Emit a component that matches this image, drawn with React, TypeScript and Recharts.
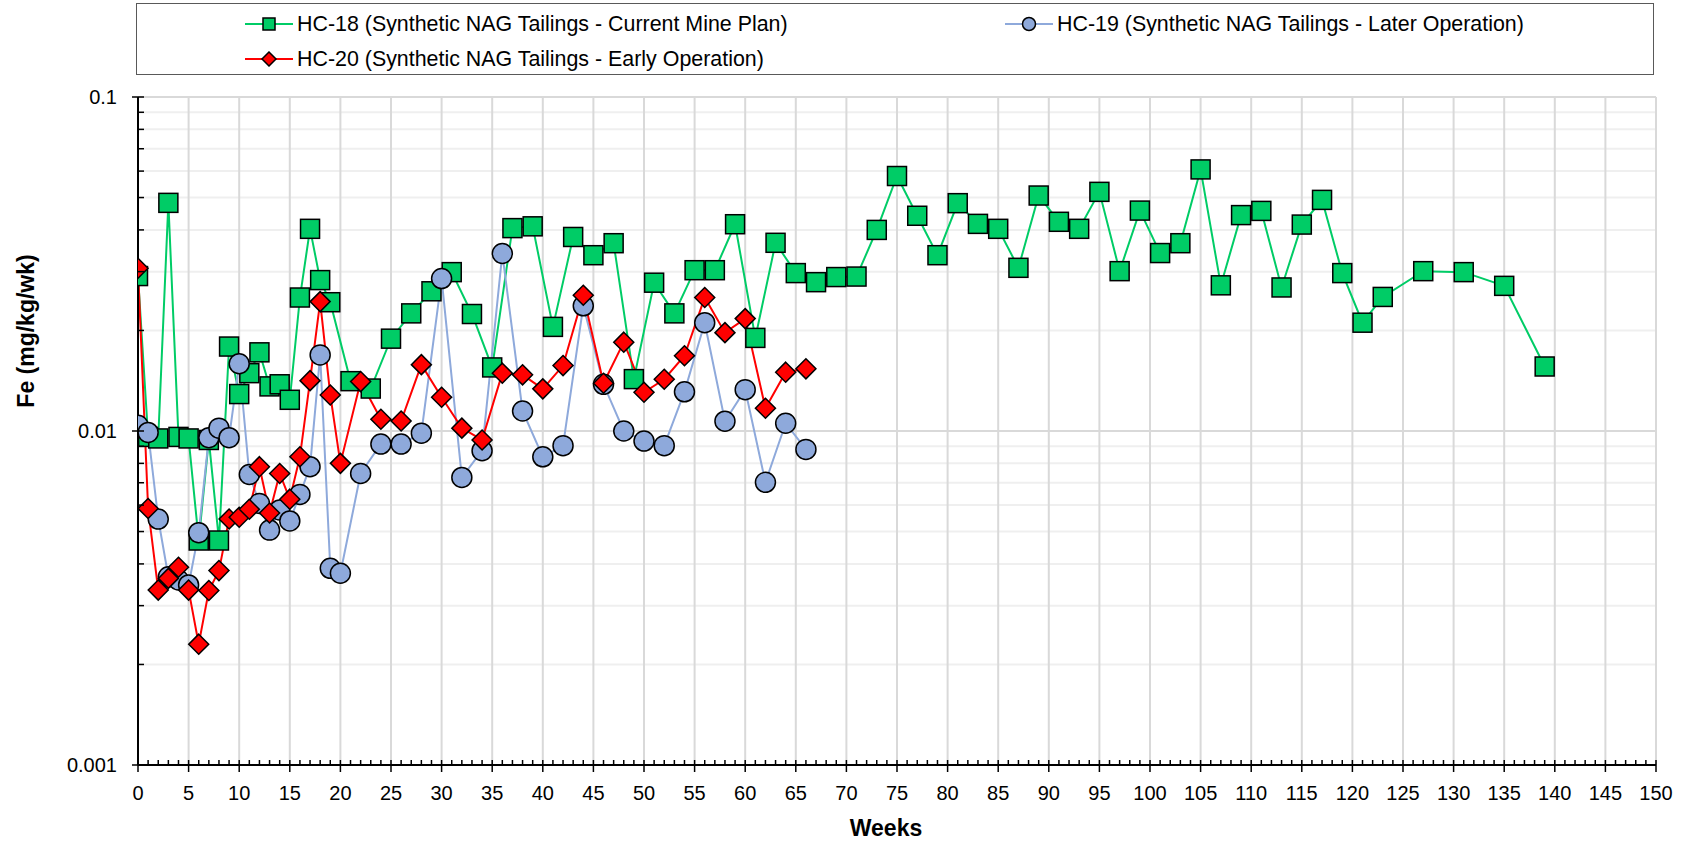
import { LineChart, Line, XAxis, YAxis, ReferenceLine } from 'recharts'

// HC-18 (weekly to wk 19, then every 2nd week)
const weeks18 = [
  0, 1, 2, 3, 4, 5, 6, 7, 8, 9, 10, 11, 12, 13, 14, 15, 16, 17, 18, 19,
  21, 23, 25, 27, 29, 31, 33, 35, 37, 39, 41, 43, 45, 47, 49, 51, 53, 55, 57, 59,
  61, 63, 65, 67, 69, 71, 73, 75, 77, 79, 81, 83, 85, 87, 89, 91, 93, 95, 97, 99,
  101, 103, 105, 107, 109, 111, 113, 115, 117, 119, 121, 123, 127, 131, 135, 139,
]
const fe18 = [
  0.0291, 0.0096, 0.0095, 0.0482, 0.0096, 0.0095, 0.0047, 0.0094, 0.0047, 0.0179,
  0.0129, 0.0149, 0.0172, 0.0136, 0.0138, 0.0124, 0.0251, 0.0403, 0.0283, 0.0243,
  0.0141, 0.0134, 0.0189, 0.0225, 0.0262, 0.0299, 0.0224, 0.0155, 0.0405, 0.041,
  0.0205, 0.0381, 0.0336, 0.0365, 0.0143, 0.0278, 0.0225, 0.0303, 0.0303, 0.0416,
  0.019, 0.0366, 0.0297, 0.0279, 0.0289, 0.029, 0.04, 0.058, 0.0441, 0.0336,
  0.0481, 0.0417, 0.0403, 0.0308, 0.0507, 0.0423, 0.0403, 0.052, 0.0301, 0.0457,
  0.0341, 0.0365, 0.0607, 0.0273, 0.0443, 0.0456, 0.0269, 0.0415, 0.0492, 0.0297,
  0.0211, 0.0252, 0.0301, 0.0299, 0.0272, 0.0156,
]

// HC-19 and HC-20 share the same sampling weeks
const weeks1920 = [
  0, 1, 2, 3, 4, 5, 6, 7, 8, 9, 10, 11, 12, 13, 14, 15, 16, 17, 18, 19, 20,
  22, 24, 26, 28, 30, 32, 34, 36, 38, 40, 42, 44, 46, 48, 50, 52, 54, 56, 58,
  60, 62, 64, 66,
]
const fe19 = [
  0.0104, 0.0099, 0.00545, 0.00366, 0.00358, 0.00346, 0.00496, 0.00955, 0.0102, 0.00955,
  0.0159, 0.00741, 0.00607, 0.00505, 0.0058, 0.00538, 0.00646, 0.00782, 0.0169, 0.00388,
  0.00375, 0.00746, 0.00914, 0.00914, 0.00985, 0.0286, 0.00726, 0.00873, 0.034, 0.01148,
  0.00837, 0.00904, 0.0237, 0.0138, 0.01, 0.00933, 0.00904, 0.0131, 0.0211, 0.0107,
  0.0133, 0.00702, 0.01055, 0.00881,
]
const fe20 = [
  0.0307, 0.00586, 0.00334, 0.00362, 0.00391, 0.00334, 0.0023, 0.00333, 0.00382, 0.00545,
  0.00552, 0.00583, 0.00782, 0.00568, 0.00746, 0.00625, 0.00837, 0.01415, 0.0244, 0.01282,
  0.008, 0.01406, 0.01084, 0.01071, 0.0158, 0.01262, 0.0102, 0.0094, 0.0149, 0.01473,
  0.01337, 0.0157, 0.0255, 0.0139, 0.01845, 0.01306, 0.01429, 0.0168, 0.0251, 0.0197,
  0.0217, 0.0117, 0.015, 0.01535,
]

const xMajor = [0, 5, 10, 15, 20, 25, 30, 35, 40, 45, 50, 55, 60, 65, 70, 75, 80, 85, 90, 95, 100, 105, 110, 115, 120, 125, 130, 135, 140, 145, 150]
const xTicks = Array.from({ length: 151 }, (_, i) => i)
const yMajor = [0.001, 0.01, 0.1]
const yTicks = [
  0.001, 0.002, 0.003, 0.004, 0.005, 0.006, 0.007, 0.008, 0.009,
  0.01, 0.02, 0.03, 0.04, 0.05, 0.06, 0.07, 0.08, 0.09, 0.1,
]

const GREEN = '#00CC66'
const BLUE = '#8EA9DB'
const RED = '#FF0000'
const FONT = '"Liberation Sans", Arial, sans-serif'

const hc18 = weeks18.map((w, i) => ({ w, v: fe18[i] }))
const hc19 = weeks1920.map((w, i) => ({ w, v: fe19[i] }))
const hc20 = weeks1920.map((w, i) => ({ w, v: fe20[i] }))

const SquareDot = (p: any) => {
  if (p.cx == null || p.cy == null) return <g key={`s${p.index}`} />
  return <rect key={`s${p.index}`} x={p.cx - 9.5} y={p.cy - 9.5} width={19} height={19} fill={GREEN} stroke="#000" strokeWidth={1.5} />
}
const CircleDot = (p: any) => {
  if (p.cx == null || p.cy == null) return <g key={`c${p.index}`} />
  return <circle key={`c${p.index}`} cx={p.cx} cy={p.cy} r={10} fill={BLUE} stroke="#000" strokeWidth={1.5} />
}
const DiamondDot = (p: any) => {
  if (p.cx == null || p.cy == null) return <g key={`d${p.index}`} />
  const { cx, cy } = p
  return <path key={`d${p.index}`} d={`M${cx},${cy - 10}L${cx + 10},${cy}L${cx},${cy + 10}L${cx - 10},${cy}Z`} fill={RED} stroke="#000" strokeWidth={1.5} />
}

const XTick = (p: any) => {
  const { x, y, payload } = p
  const major = payload.value % 5 === 0
  return (
    <g>
      <line x1={x} x2={x} y1={y - 5} y2={major ? y + 7 : y} stroke="#000" strokeWidth={1.5} />
      {major && (
        <text x={x} y={y + 35} textAnchor="middle" fontSize={20} fontFamily={FONT} fill="#000">{payload.value}</text>
      )}
    </g>
  )
}

const YTick = (p: any) => {
  const { x, y, payload } = p
  const major = yMajor.some(m => Math.abs(m - payload.value) < 1e-9)
  return (
    <g>
      <line x1={major ? x - 6 : x} x2={x + 6} y1={y} y2={y} stroke="#000" strokeWidth={1.5} />
      {major && (
        <text x={x - 21} y={y + 7} textAnchor="end" fontSize={20} fontFamily={FONT} fill="#000">{payload.value}</text>
      )}
    </g>
  )
}

const legendItems = [
  { name: 'HC-18 (Synthetic NAG Tailings - Current Mine Plan)', color: GREEN, shape: 'square', left: 108, top: 20 },
  { name: 'HC-19 (Synthetic NAG Tailings - Later Operation)', color: BLUE, shape: 'circle', left: 868, top: 20 },
  { name: 'HC-20 (Synthetic NAG Tailings - Early Operation)', color: RED, shape: 'diamond', left: 108, top: 55 },
]

function LegendMark({ shape, color }: { shape: string; color: string }) {
  return (
    <svg width={48} height={16} style={{ display: 'block' }}>
      <line x1={0} x2={48} y1={8} y2={8} stroke={color} strokeWidth={2} />
      {shape === 'square' && <rect x={18} y={2} width={12} height={12} fill={color} stroke="#000" strokeWidth={1.5} />}
      {shape === 'circle' && <circle cx={24} cy={8} r={6.5} fill={color} stroke="#000" strokeWidth={1.5} />}
      {shape === 'diamond' && <path d="M24,1L31,8L24,15L17,8Z" fill={color} stroke="#000" strokeWidth={1.5} />}
    </svg>
  )
}

export default function App() {
  return (
    <div style={{ position: 'absolute', left: 0, top: 0, width: 1685, height: 849, background: '#fff', fontFamily: FONT }}>
      <div style={{ position: 'absolute', left: 136, top: 3, width: 1518, height: 72, border: '1.5px solid #595959', boxSizing: 'border-box' }}>
        {legendItems.map(it => (
          <div key={it.name} style={{ position: 'absolute', left: it.left, top: it.top - 12, height: 24, display: 'flex', alignItems: 'center', whiteSpace: 'nowrap' }}>
            <LegendMark shape={it.shape} color={it.color} />
            <span style={{ marginLeft: 4, fontSize: 21.4, color: '#000' }}>{it.name}</span>
          </div>
        ))}
      </div>
      <LineChart width={1685} height={849} margin={{ top: 97, right: 29, bottom: 0, left: 0 }}>
        {yTicks.slice(1).map(v => (
          <ReferenceLine key={`h${v}`} y={v} stroke={yMajor.includes(v) ? '#D9D9D9' : '#EFEFEF'} strokeWidth={2} />
        ))}
        {xMajor.slice(1).map(v => (
          <ReferenceLine key={`v${v}`} x={v} stroke="#D9D9D9" strokeWidth={2} />
        ))}
        <XAxis
          type="number"
          dataKey="w"
          domain={[0, 150]}
          ticks={xTicks}
          interval={0}
          tick={XTick}
          tickLine={false}
          tickSize={0}
          tickMargin={0}
          height={84}
          allowDataOverflow
          axisLine={{ stroke: '#000', strokeWidth: 2 }}
          label={{
            content: () => (
              <text x={886} y={836} textAnchor="middle" fontSize={23} fontWeight="bold" fontFamily={FONT} fill="#000">Weeks</text>
            ),
          }}
        />
        <YAxis
          type="number"
          scale="log"
          domain={[0.001, 0.1]}
          ticks={yTicks}
          interval={0}
          tick={YTick}
          tickLine={false}
          tickSize={0}
          tickMargin={0}
          width={138}
          allowDataOverflow
          axisLine={{ stroke: '#000', strokeWidth: 2 }}
          label={{
            content: () => (
              <text x={34} y={331} transform="rotate(-90 34 331)" textAnchor="middle" fontSize={23} fontWeight="bold" fontFamily={FONT} fill="#000">Fe (mg/kg/wk)</text>
            ),
          }}
        />
        <Line data={hc18} dataKey="v" stroke={GREEN} strokeWidth={2} dot={SquareDot} activeDot={false} isAnimationActive={false} />
        <Line data={hc19} dataKey="v" stroke={BLUE} strokeWidth={2} dot={CircleDot} activeDot={false} isAnimationActive={false} />
        <Line data={hc20} dataKey="v" stroke={RED} strokeWidth={2} dot={DiamondDot} activeDot={false} isAnimationActive={false} />
      </LineChart>
    </div>
  )
}
